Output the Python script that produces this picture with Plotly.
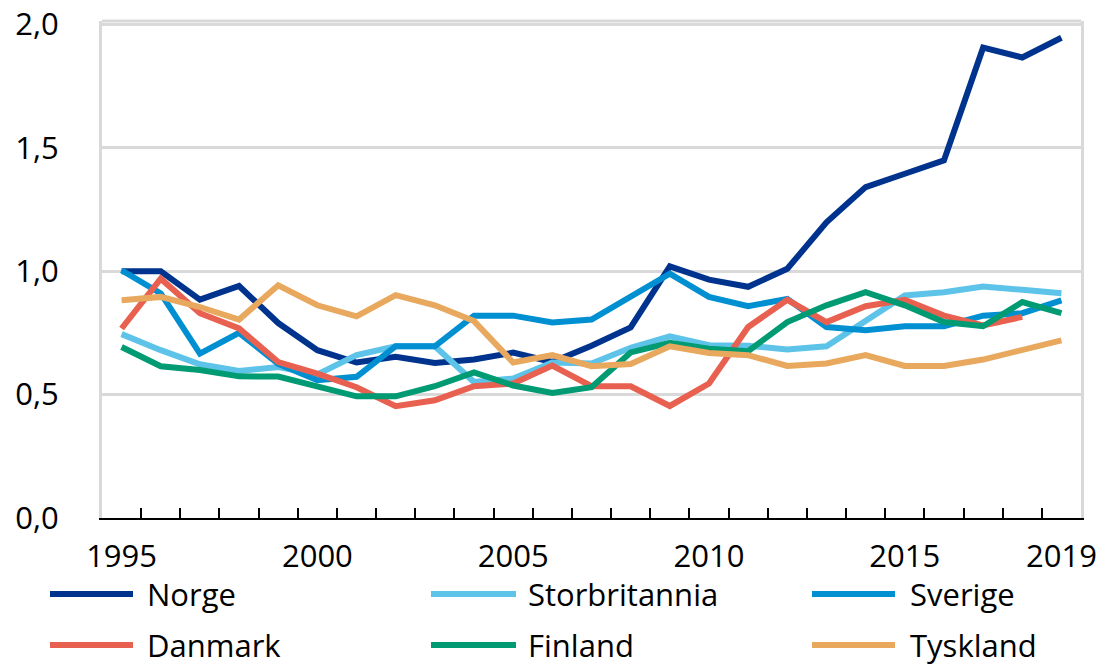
import plotly.graph_objects as go

years = list(range(1995, 2020))
tick_years = [1995, 2000, 2005, 2010, 2015, 2019]
y_ticks = [0.0, 0.5, 1.0, 1.5, 2.0]

norge = [1.00, 1.00, 0.885, 0.94, 0.79, 0.68, 0.63, 0.653, 0.628, 0.642, 0.67, 0.632, 0.698,
         0.772, 1.02, 0.966, 0.937, 1.01, 1.198, 1.341, 1.395, 1.449, 1.906, 1.866, 1.946]
storbritannia = [0.745, 0.68, 0.623, 0.596, 0.612, 0.582, 0.66, 0.696, 0.696, 0.551, 0.565, 0.63,
                 0.626, 0.69, 0.736, 0.70, 0.698, 0.683, 0.696, 0.80, 0.902, 0.915, 0.938, 0.925, 0.911]
sverige = [1.004, 0.91, 0.666, 0.75, 0.625, 0.558, 0.572, 0.696, 0.696, 0.82, 0.82, 0.792, 0.804,
           0.898, 0.99, 0.896, 0.858, 0.888, 0.774, 0.761, 0.777, 0.777, 0.82, 0.83, 0.882]
danmark = [0.768, 0.97, 0.83, 0.768, 0.632, 0.585, 0.53, 0.453, 0.477, 0.534, 0.545, 0.618, 0.534,
           0.534, 0.454, 0.545, 0.774, 0.884, 0.794, 0.858, 0.884, 0.82, 0.78, 0.815, None]
finland = [0.693, 0.615, 0.60, 0.574, 0.573, 0.534, 0.493, 0.493, 0.534, 0.59, 0.537, 0.507, 0.53,
           0.671, 0.71, 0.686, 0.676, 0.794, 0.862, 0.915, 0.862, 0.794, 0.777, 0.875, 0.83]
tyskland = [0.882, 0.896, 0.855, 0.804, 0.943, 0.862, 0.817, 0.903, 0.862, 0.798, 0.63, 0.66, 0.615,
            0.624, 0.696, 0.669, 0.66, 0.616, 0.626, 0.66, 0.616, 0.616, 0.642, 0.68, 0.72]

names = ["Norge", "Storbritannia", "Sverige", "Danmark", "Finland", "Tyskland"]
series = [norge, storbritannia, sverige, danmark, finland, tyskland]
colors = ["#00338D", "#5DC3E8", "#0090D2", "#E8604F", "#009B73", "#E8A85E"]

FONT = "Open Sans"
GRID = "#D9D9D9"

fig = go.Figure()
for name, vals, col in zip(names, series, colors):
    fig.add_trace(go.Scatter(x=years, y=vals, name=name, mode="lines",
                             line=dict(color=col, width=6), showlegend=False))

# invisible trace on the second x axis so its boundary ticks get drawn
fig.add_trace(go.Scatter(x=[years[0]], y=[None], xaxis="x2", showlegend=False,
                         hoverinfo="skip"))

xr = [years[0] - 0.5, years[-1] + 0.5]
fig.update_layout(
    width=1104, height=667,
    margin=dict(l=102, r=23, t=21, b=149),
    paper_bgcolor="white", plot_bgcolor="white",
    separators=", ",
    font=dict(family=FONT, size=31, color="black"),
    xaxis=dict(range=xr, tickvals=tick_years, ticktext=[str(t) for t in tick_years],
               ticks="", showgrid=False, zeroline=False, automargin=False,
               showline=True, linecolor="black", linewidth=2,
               ticklabelstandoff=10, tickfont=dict(size=31)),
    xaxis2=dict(range=xr, overlaying="x", side="bottom", automargin=False,
                tickvals=[y - 0.5 for y in years] + [years[-1] + 0.5],
                ticks="inside", ticklen=10, tickwidth=2, tickcolor="black",
                showticklabels=False, showgrid=False, zeroline=False, showline=False),
    yaxis=dict(range=[0, 2.014], tickvals=y_ticks, tickformat=".1f", automargin=False,
               showgrid=True, gridcolor=GRID, gridwidth=3, zeroline=False,
               showline=True, linecolor=GRID, linewidth=3, mirror=True,
               ticks="", ticklabelstandoff=34, tickfont=dict(size=31)),
)

# top edge of the frame
fig.add_shape(type="line", xref="paper", yref="paper", x0=0, x1=1, y0=1, y1=1,
              line=dict(color=GRID, width=3), layer="below")

# legend: two rows of three entries below the plot
plot_w, plot_h, left, bottom_px = 979, 497, 102, 518
cols_px = [(50, 133, 145), (431, 516, 526), (812, 895, 908)]
rows_px = [594, 645]
for i, (name, col) in enumerate(zip(names, colors)):
    sx0, sx1, tx = cols_px[i % 3]
    ry = rows_px[i // 3]
    py = (bottom_px - ry) / plot_h
    fig.add_shape(type="line", xref="paper", yref="paper",
                  x0=(sx0 - left) / plot_w, x1=(sx1 - left) / plot_w, y0=py, y1=py,
                  line=dict(color=col, width=6))
    fig.add_annotation(xref="paper", yref="paper", x=(tx - left) / plot_w, y=py,
                       text=name, showarrow=False, xanchor="left", yanchor="middle",
                       font=dict(family=FONT, size=31, color="black"))

fig.write_html("out.html")
